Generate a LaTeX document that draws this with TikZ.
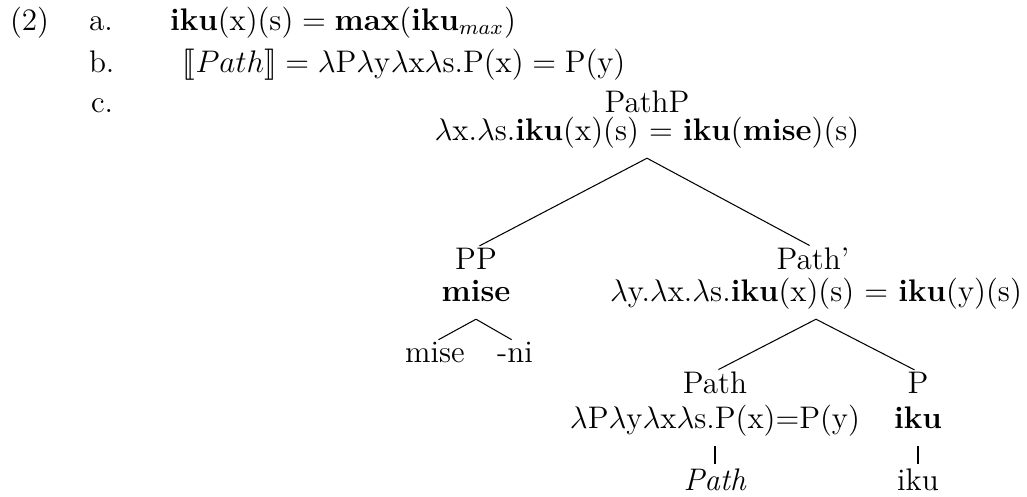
\documentclass[tikz,border=0pt]{standalone}
\usepackage{amsmath}
\usepackage{stmaryrd}
\begin{document}
\begin{tikzpicture}[x=0.3846pt, y=-0.3846pt,
    font=\fontsize{12}{14.5}\selectfont,
    every node/.style={inner sep=0pt, outer sep=0pt},
    lbl/.style={anchor=base west},
    cat/.style={anchor=base},
    sem/.style={anchor=base, text depth=3pt, inner ysep=4pt},
    branch/.style={shorten >=1.5pt}]
  \useasboundingbox (0,0) rectangle (1027,496);

  % example numbering and sub-items
  \node[lbl] (num) at (10,30) {(2)};
  \node[lbl] (ia) at (89,30) {a.};
  \node[lbl] (ib) at (89,72) {b.};
  \node[lbl] (ic) at (91,112) {c.};

  \node[lbl] (fa) at (170,30) {$\textbf{iku}(\mathrm{x})(\mathrm{s}) = \textbf{max}(\textbf{iku}_{max})$};
  \node[lbl] (fb) at (183,72) {$\llbracket Path\rrbracket = \lambda\mathrm{P}\lambda\mathrm{y}\lambda\mathrm{x}\lambda\mathrm{s}.\mathrm{P}(\mathrm{x}) = \mathrm{P}(\mathrm{y})$};

  % tree: root
  \node[cat] (pathp) at (647,112) {PathP};
  \node[sem] (pathp-s) at (647,140) {$\lambda$x.$\lambda$s.\textbf{iku}(x)(s) $=$ \textbf{iku}(\textbf{mise})(s)};

  % left daughter
  \node[cat] (pp) at (476,269) {PP};
  \node[sem] (pp-s) at (476,301) {\textbf{mise}};
  \node[cat] (mise) at (435,362) {mise};
  \node[cat] (ni) at (515,362) {-ni};

  % right daughter
  \node[cat] (pbar) at (813,269) {Path'};
  \node[sem] (pbar-s) at (816,301) {$\lambda$y.$\lambda$x.$\lambda$s.\textbf{iku}(x)(s) $=$ \textbf{iku}(y)(s)};

  \node[cat] (path) at (715,393) {Path};
  \node[sem] (path-s) at (715,428) {$\lambda$P$\lambda$y$\lambda$x$\lambda$s.P(x)=P(y)};
  \node[cat] (pathw) at (715,490) {\textit{Path}};

  \node[cat] (p) at (918,393) {P};
  \node[sem] (p-s) at (918,428) {\textbf{iku}};
  \node[cat] (ikuw) at (918,490) {iku};

  % branches
  \draw[branch] (pathp-s.south) -- (pp.north);
  \draw[branch] (pathp-s.south) -- (pbar.north);
  \draw[branch] (pp-s.south) -- (mise.north);
  \draw[branch] (pp-s.south) -- (ni.north);
  \draw[branch] (pbar-s.south) -- (path.north);
  \draw[branch] (pbar-s.south) -- (p.north);
  \draw[branch] (path-s.south) -- (pathw.north);
  \draw[branch] (p-s.south) -- (ikuw.north);
\end{tikzpicture}
\end{document}
